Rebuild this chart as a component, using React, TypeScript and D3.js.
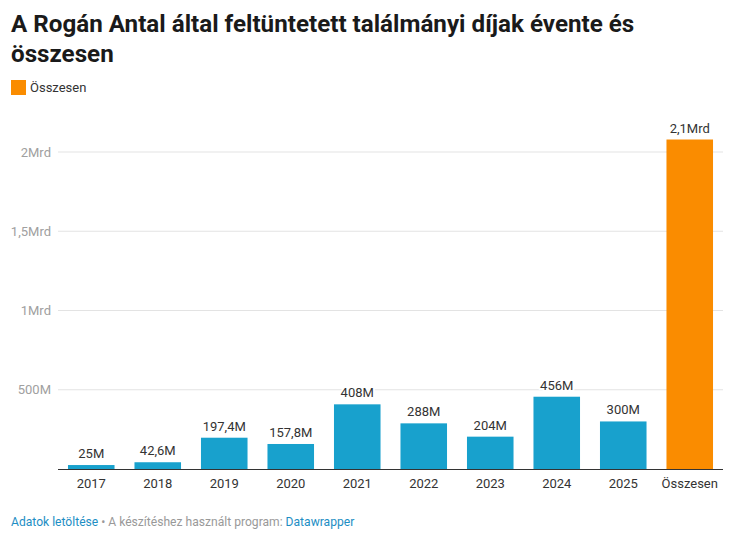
import React from "react";
import * as d3 from "d3";

const categories = ["2017", "2018", "2019", "2020", "2021", "2022", "2023", "2024", "2025", "Összesen"];
const values = [25e6, 42.6e6, 197.4e6, 157.8e6, 408e6, 288e6, 204e6, 456e6, 300e6, 2078.8e6];
const valueLabels = ["25M", "42,6M", "197,4M", "157,8M", "408M", "288M", "204M", "456M", "300M", "2,1Mrd"];
const yTicks = [500e6, 1e9, 1.5e9, 2e9];
const yTickLabels = ["500M", "1Mrd", "1,5Mrd", "2Mrd"];
const totalIndex = 9;

const W = 742;
const H = 543;
const FONT = "Roboto, 'Noto Sans', sans-serif";

export default function App() {
  const x = d3.scaleBand<string>().domain(categories).range([58, 723]).paddingInner(0.3).paddingOuter(0.15);
  const y = d3.scaleLinear().domain([0, 2e9]).range([469, 152]);

  return (
    <svg width={W} height={H} style={{ position: "absolute", left: 0, top: 0, background: "#fff" }} fontFamily={FONT}>
      <text x={11} y={32} fontSize={24.2} fontWeight={700} fill="#1a1a1a">
        A Rogán Antal által feltüntetett találmányi díjak évente és
      </text>
      <text x={11} y={62} fontSize={24.2} fontWeight={700} fill="#1a1a1a">
        összesen
      </text>

      <rect x={11} y={80} width={15} height={15} fill="#fa8c00" />
      <text x={30} y={91.5} fontSize={13} fill="#333">Összesen</text>

      {yTicks.map((t, i) => (
        <g key={t}>
          <line x1={58} x2={723} y1={y(t)} y2={y(t)} stroke="#e3e3e3" strokeWidth={1} />
          <text x={51} y={y(t) + 4.5} fontSize={13} fill="#a0a0a0" textAnchor="end">
            {yTickLabels[i]}
          </text>
        </g>
      ))}

      {categories.map((c, i) => (
        <rect
          key={c}
          x={x(c)}
          y={y(values[i])}
          width={x.bandwidth()}
          height={y(0) - y(values[i])}
          fill={i === totalIndex ? "#fa8c00" : "#18a1cd"}
        />
      ))}

      <line x1={58} x2={723} y1={y(0) + 0.5} y2={y(0) + 0.5} stroke="#333" strokeWidth={1} />

      {categories.map((c, i) => (
        <text
          key={"v" + c}
          x={(x(c) ?? 0) + x.bandwidth() / 2}
          y={y(values[i]) - 7}
          fontSize={13}
          fill="#333"
          textAnchor="middle"
          stroke="#fff"
          strokeWidth={4}
          paintOrder="stroke"
          strokeLinejoin="round"
        >
          {valueLabels[i]}
        </text>
      ))}

      {categories.map((c) => (
        <text key={"x" + c} x={(x(c) ?? 0) + x.bandwidth() / 2} y={488} fontSize={13} fill="#333" textAnchor="middle">
          {c}
        </text>
      ))}

      <text x={11} y={526} fontSize={12.1}>
        <tspan fill="#1d8ec4">Adatok letöltése</tspan>
        <tspan fill="#999"> • A készítéshez használt program: </tspan>
        <tspan fill="#1d8ec4">Datawrapper</tspan>
      </text>
    </svg>
  );
}
